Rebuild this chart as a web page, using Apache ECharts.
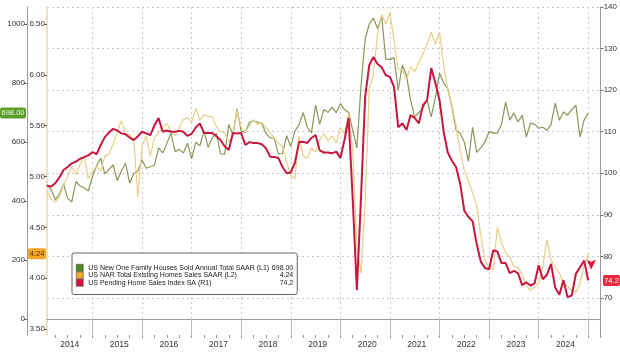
<!DOCTYPE html>
<html>
<head>
<meta charset="utf-8">
<script src="https://cdn.jsdelivr.net/npm/echarts@6/dist/echarts.min.js"></script>
<style>
html,body{margin:0;padding:0;background:#fff}
#chart{width:620px;height:353px}
</style>
</head>
<body>
<div id="chart"></div>
<script>
// monthly, Jan 2014 .. Dec 2024 (plotted at month end)
var years = [2014,2015,2016,2017,2018,2019,2020,2021,2022,2023,2024];

// US New One Family Houses Sold, SAAR, thousands (L1)
var newHomeSales = [
  455,439,405,423,458,409,397,466,451,445,434,483,
  520,545,492,507,522,469,502,528,461,493,502,540,
  511,516,521,580,563,595,630,567,575,563,596,543,
  599,587,638,582,614,629,560,559,659,624,712,636,
  633,667,672,667,662,630,614,613,560,561,621,585,
  637,658,700,650,631,725,660,710,700,718,699,730,
  710,700,640,580,790,950,1000,1020,985,1025,880,880,
  885,776,861,827,742,685,700,715,742,685,750,834,
  800,780,720,640,630,600,535,650,565,580,600,635,
  630,630,660,735,674,698,668,691,617,664,660,647,
  650,640,660,732,674,702,691,710,725,617,674,698
];

// US NAR Total Existing Homes Sales, SAAR, millions (L2)
var existingHomeSales = [
  4.85,4.78,4.75,4.80,4.92,5.00,5.10,5.02,5.12,5.20,4.98,5.05,
  5.10,5.05,5.20,5.22,5.32,5.44,5.55,5.42,5.41,5.36,4.80,5.30,
  5.40,5.20,5.38,5.43,5.48,5.52,5.45,5.40,5.48,5.56,5.58,5.53,
  5.67,5.55,5.61,5.59,5.59,5.49,5.44,5.43,5.34,5.40,5.65,5.48,
  5.44,5.50,5.56,5.51,5.53,5.48,5.43,5.38,5.33,5.29,5.14,5.01,
  4.98,5.40,5.20,5.18,5.28,5.24,5.36,5.42,5.35,5.40,5.33,5.48,
  5.42,5.62,5.27,4.30,4.05,4.75,5.86,6.00,6.40,6.59,6.50,6.61,
  6.34,6.05,6.05,5.95,6.08,6.03,6.12,6.21,6.30,6.42,6.30,6.42,
  6.10,5.85,5.70,5.50,5.25,5.06,4.95,4.84,4.72,4.42,4.18,4.10,
  4.08,4.50,4.35,4.25,4.21,4.11,4.11,4.03,3.93,3.88,3.91,3.95,
  4.11,4.38,4.18,4.11,4.05,3.95,3.92,3.88,3.86,3.95,4.13,4.24
];

// US Pending Home Sales Index SA (R1)
var pendingHomeSales = [
  97.0,96.8,97.6,99.0,100.8,101.5,102.4,102.8,103.5,103.9,104.3,105.1,
  104.6,106.8,108.7,109.8,110.7,110.3,109.6,109.4,108.6,108.0,108.9,110.0,
  109.6,109.2,111.5,113.3,110.0,110.3,110.0,110.0,110.2,110.0,109.0,109.5,
  111.0,112.0,109.7,109.7,109.7,108.9,108.0,106.5,105.6,109.7,109.6,109.7,
  106.8,107.5,107.3,107.3,107.0,106.0,104.0,103.9,103.7,101.5,100.0,100.2,
  102.5,107.5,107.6,107.3,108.5,109.2,105.5,105.0,105.0,104.8,105.2,103.7,
  108.0,113.3,93.6,71.9,94.3,118.4,126.0,128.0,126.3,125.5,123.6,123.2,
  120.8,111.1,112.0,110.4,114.0,113.3,112.0,116.4,117.6,125.3,121.7,117.6,
  110.0,105.0,103.0,101.5,97.5,91.0,89.5,88.5,83.0,78.7,77.2,76.9,
  81.5,81.2,78.4,78.4,76.0,76.5,76.0,73.1,73.8,73.0,73.5,77.9,
  74.5,75.6,78.2,72.5,70.8,74.3,70.2,70.6,75.8,77.4,79.0,74.2
];

var seriesNames = [
  'US New One Family Houses Sold Annual Total SAAR (L1)',
  'US NAR Total Existing Homes Sales SAAR (L2)',
  'US Pending Home Sales Index SA (R1)'
];
var lastValues = ['698.00', '4.24', '74.2'];
var leftTicks = [0, 200, 400, 600, 800, 1000];
var midTicks = [3.5, 4, 4.5, 5, 5.5, 6, 6.5];
var rightTicks = [70, 80, 90, 100, 110, 120, 130, 140];

var lineColors = ['#86985a', '#e8cf86', '#c8173f'];
var keyColors = ['#4d8a22', '#eeaa33', '#d4163f'];

function monthly(values) {
  return values.map(function (v, i) { return [i + 1, v]; });
}
var yearBounds = years.map(function (y, i) { return (i + 1) * 12; });
var yearMids = years.map(function (y, i) { return i * 12 + 6.5; });
var quarters = [];
for (var q = 3; q <= 135; q += 3) quarters.push(q);

var font = 'Liberation Sans';
var chart = echarts.init(document.getElementById('chart'));

var dotted = { color: '#c9c9c9', type: [2, 3], width: 1 };

chart.setOption({
  animation: false,
  backgroundColor: '#fff',
  grid: { left: 47, right: 19, top: 7, bottom: 18 },
  legend: {
    left: 72, top: 253, orient: 'vertical',
    padding: [11, 4, 8, 4], itemGap: 0, itemWidth: 7, itemHeight: 7,
    icon: 'rect', selectedMode: false,
    backgroundColor: '#fff', borderColor: '#666', borderWidth: 1, borderRadius: 2,
    data: seriesNames.map(function (n, i) {
      return { name: n, itemStyle: { color: keyColors[i], borderColor: '#333', borderWidth: 0.5 } };
    }),
    formatter: function (name) {
      return '{n|' + name + '}{v|' + lastValues[seriesNames.indexOf(name)] + '}';
    },
    textStyle: {
      fontFamily: font, fontSize: 7, color: '#222',
      rich: {
        n: { width: 172, fontSize: 7, lineHeight: 9, fontFamily: font, color: '#222' },
        v: { width: 33, align: 'right', fontSize: 7, lineHeight: 9, fontFamily: font, color: '#222' }
      }
    }
  },
  xAxis: [{
    type: 'value', min: 1, max: 135,
    axisLine: { lineStyle: { color: '#999' } },
    axisTick: { customValues: yearBounds, length: 18, lineStyle: { color: '#bbb' } },
    axisLabel: {
      customValues: yearMids, margin: 5, fontFamily: font, fontSize: 8.5, color: '#333',
      formatter: function (v) { return String(years[Math.floor(v / 12)]); }
    },
    splitLine: { show: true, lineStyle: dotted }
  }, {
    type: 'value', min: 1, max: 135, position: 'bottom',
    axisLine: { show: false },
    axisTick: { customValues: quarters, length: 3, lineStyle: { color: '#999' } },
    axisLabel: { show: false },
    splitLine: { show: false }
  }],
  yAxis: [{
    type: 'value', position: 'left', offset: 20, min: -54.2, max: 1057.6,
    axisLine: { show: true, lineStyle: { color: '#999' } },
    axisTick: { show: true, customValues: leftTicks, length: 3, lineStyle: { color: '#666' } },
    axisLabel: {
      customValues: leftTicks, margin: 2, fontFamily: font, fontSize: 8, color: '#333',
      formatter: function (v) { return String(v); }
    },
    splitLine: { show: false }
  }, {
    type: 'value', position: 'left', offset: 0, min: 3.441, max: 6.667,
    axisLine: { show: true, lineStyle: { color: '#e3dca6', width: 1.5 } },
    axisTick: { show: true, customValues: midTicks, length: 3, lineStyle: { color: '#666' } },
    axisLabel: {
      customValues: midTicks, margin: 2, fontFamily: font, fontSize: 8, color: '#333',
      formatter: function (v) { return v.toFixed(2); }
    },
    splitLine: { show: false }
  }, {
    type: 'value', position: 'right', min: 61.1, max: 140,
    axisLine: { show: true, lineStyle: { color: '#a7949f' } },
    axisTick: { show: true, customValues: rightTicks, length: 3, lineStyle: { color: '#777' } },
    axisLabel: { customValues: rightTicks, margin: 3, fontFamily: font, fontSize: 8, color: '#333' },
    splitLine: { show: true, lineStyle: dotted }
  }],
  series: [{
    name: seriesNames[0], type: 'line', yAxisIndex: 0, showSymbol: false,
    data: monthly(newHomeSales),
    itemStyle: { color: keyColors[0] },
    lineStyle: { color: lineColors[0], width: 1.2 }
  }, {
    name: seriesNames[1], type: 'line', yAxisIndex: 1, showSymbol: false,
    data: monthly(existingHomeSales),
    itemStyle: { color: keyColors[1] },
    lineStyle: { color: lineColors[1], width: 1.2 }
  }, {
    name: seriesNames[2], type: 'line', yAxisIndex: 2, showSymbol: false,
    data: monthly(pendingHomeSales),
    itemStyle: { color: keyColors[2] },
    lineStyle: { color: lineColors[2], width: 2 },
    markPoint: {
      symbol: 'arrow', symbolSize: [7, 10], symbolRotate: 180, symbolOffset: [3, -11],
      itemStyle: { color: '#e0102a' }, label: { show: false },
      data: [{ coord: [132, 74.2] }]
    }
  }]
});

// last-price tags on the axes
var yGreen = chart.convertToPixel({ yAxisIndex: 0 }, 698);
var yOrange = chart.convertToPixel({ yAxisIndex: 1 }, 4.24);
var yRed = chart.convertToPixel({ yAxisIndex: 2 }, 74.2);

function tag(x, y, w, fill, text, textColor) {
  return {
    type: 'group', children: [
      { type: 'rect', shape: { x: x, y: y - 5.5, width: w, height: 11, r: 2 }, style: { fill: fill } },
      { type: 'text', style: { x: x + w / 2, y: y, text: text, fill: textColor, fontSize: 7.5, fontFamily: font, align: 'center', verticalAlign: 'middle' } }
    ]
  };
}

chart.setOption({
  graphic: [
    { type: 'text', style: { x: 184, y: 262, text: 'Last Price', fill: '#222', fontSize: 7.5, fontFamily: font, align: 'center', verticalAlign: 'middle' } },
    tag(0, yGreen, 26, '#5c9e2c', '698.00', '#eef7dc'),
    tag(28, yOrange, 18, '#f2a623', '4.24', '#5a3000'),
    tag(603, yRed, 17, '#e8283c', '74.2', '#fff')
  ]
});
</script>
</body>
</html>
